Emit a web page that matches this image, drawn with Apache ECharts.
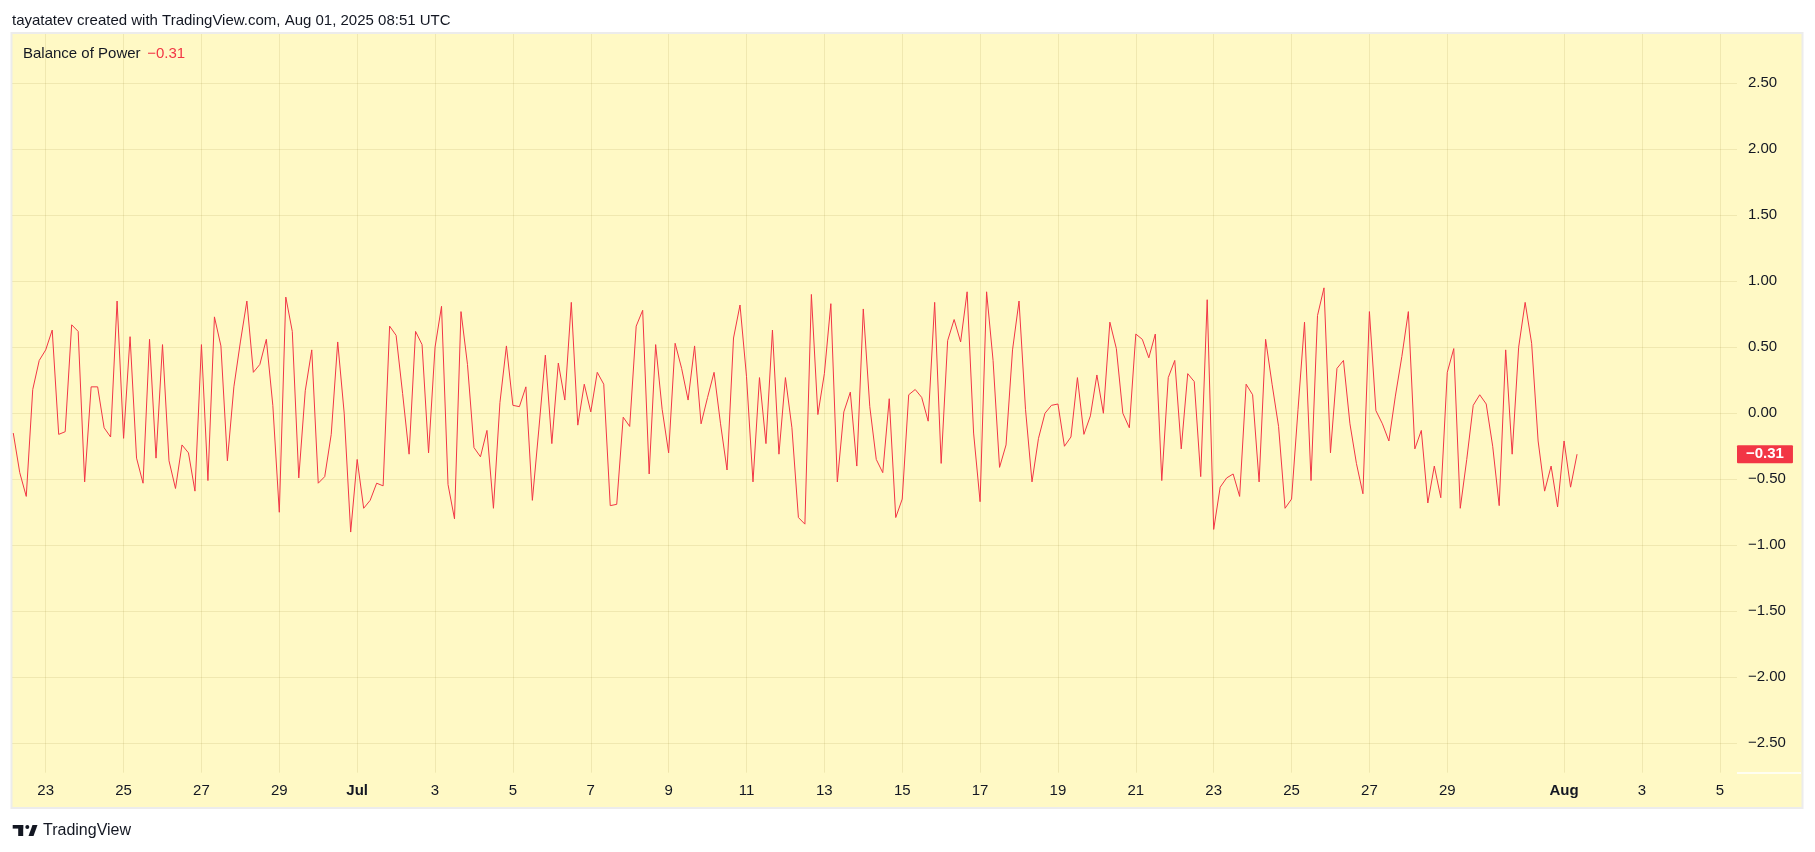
<!DOCTYPE html>
<html>
<head>
<meta charset="utf-8">
<script src="https://cdn.jsdelivr.net/npm/echarts@6/dist/echarts.min.js"></script>
<style>
  html, body { margin: 0; padding: 0; background: #ffffff; }
  #chart { width: 1815px; height: 852px; }
</style>
</head>
<body>
<div id="chart"></div>
<script>
// ---- Data ----
// 4-hour bars, first bar Jun 22 2025 04:00 UTC
const firstBarUTC = Date.UTC(2025, 5, 22, 4, 0, 0);
const barHours = 4;
const bopValues = [
  -0.15, -0.45, -0.63, 0.18, 0.40, 0.48, 0.63, -0.16, -0.14, 0.67,
  0.62, -0.52, 0.20, 0.20, -0.11, -0.18, 0.85, -0.19, 0.58, -0.34,
  -0.53, 0.56, -0.34, 0.52, -0.36, -0.57, -0.24, -0.30, -0.59, 0.52,
  -0.51, 0.73, 0.51, -0.36, 0.20, 0.54, 0.85, 0.31, 0.37, 0.56,
  0.06, -0.75, 0.88, 0.62, -0.49, 0.17, 0.48, -0.53, -0.48, -0.16,
  0.54, 0.00, -0.90, -0.35, -0.72, -0.66, -0.53, -0.55, 0.66, 0.59,
  0.15, -0.31, 0.62, 0.52, -0.30, 0.50, 0.81, -0.54, -0.80, 0.77,
  0.37, -0.26, -0.33, -0.13, -0.72, 0.08, 0.51, 0.06, 0.05, 0.20,
  -0.66, -0.12, 0.44, -0.23, 0.38, 0.10, 0.84, -0.09, 0.22, 0.01,
  0.31, 0.22, -0.70, -0.69, -0.03, -0.10, 0.66, 0.78, -0.46, 0.52,
  0.03, -0.30, 0.53, 0.34, 0.10, 0.51, -0.08, 0.12, 0.31, -0.08,
  -0.43, 0.57, 0.82, 0.28, -0.52, 0.27, -0.23, 0.63, -0.31, 0.27,
  -0.11, -0.79, -0.84, 0.90, -0.01, 0.30, 0.83, -0.52, 0.01, 0.16,
  -0.40, 0.79, 0.05, -0.35, -0.45, 0.11, -0.79, -0.65, 0.14, 0.18,
  0.12, -0.06, 0.84, -0.38, 0.55, 0.71, 0.54, 0.92, -0.15, -0.67,
  0.92, 0.40, -0.41, -0.24, 0.48, 0.85, 0.03, -0.52, -0.19, 0.00,
  0.06, 0.07, -0.25, -0.18, 0.27, -0.16, -0.02, 0.29, 0.00, 0.69,
  0.49, 0.00, -0.11, 0.60, 0.56, 0.42, 0.60, -0.51, 0.27, 0.40,
  -0.27, 0.30, 0.24, -0.48, 0.86, -0.88, -0.56, -0.49, -0.46, -0.63,
  0.22, 0.14, -0.52, 0.56, 0.22, -0.10, -0.72, -0.65, 0.03, 0.69,
  -0.51, 0.74, 0.95, -0.30, 0.34, 0.40, -0.08, -0.38, -0.61, 0.77,
  0.02, -0.08, -0.21, 0.13, 0.43, 0.77, -0.27, -0.13, -0.68, -0.40,
  -0.64, 0.31, 0.49, -0.72, -0.35, 0.06, 0.14, 0.07, -0.25, -0.70,
  0.48, -0.31, 0.50, 0.84, 0.53, -0.21, -0.59, -0.40, -0.71, -0.21,
  -0.56, -0.31
];
const lastValue = -0.31;

const xTickDates = [
  '2025-06-23','2025-06-25','2025-06-27','2025-06-29','2025-07-01','2025-07-03',
  '2025-07-05','2025-07-07','2025-07-09','2025-07-11','2025-07-13','2025-07-15',
  '2025-07-17','2025-07-19','2025-07-21','2025-07-23','2025-07-25','2025-07-27',
  '2025-07-29','2025-08-01','2025-08-03','2025-08-05'
];
const xTickLabels = [
  '23','25','27','29','Jul','3','5','7','9','11','13','15','17','19','21',
  '23','25','27','29','Aug','3','5'
];
const yTickValues = [2.5, 2.0, 1.5, 1.0, 0.5, 0.0, -0.5, -1.0, -1.5, -2.0, -2.5];
const monthLabels = ['Jul', 'Aug'];

// ---- Build ----
const HOUR = 3600 * 1000;
const seriesData = bopValues.map((v, i) => [firstBarUTC + i * barHours * HOUR, v]);
const xTickTs = xTickDates.map(d => Date.parse(d + 'T00:00:00Z'));
const xMin = firstBarUTC - 0.6 * HOUR;
const xMax = firstBarUTC + 1062.6 * HOUR;

function fmtNum(v) {
  const s = Math.abs(v).toFixed(2);
  return (v < 0 ? '\u2212' : '') + s;
}

const FONT = '"Liberation Sans", Arial, sans-serif';
const TEXT = '#131722';
const RED = '#f23645';
const BG = '#fff9c5';
const GRID = 'rgba(140,125,40,0.13)';

const chart = echarts.init(document.getElementById('chart'), null, { renderer: 'canvas' });
chart.setOption({
  animation: false,
  backgroundColor: '#ffffff',
  textStyle: { fontFamily: FONT },
  grid: { left: 12.3, right: 78, top: 34, bottom: 79.3, containLabel: false },
  xAxis: {
    type: 'value',
    min: xMin,
    max: xMax,
    scale: true,
    axisLine: { show: false },
    axisTick: { show: false, customValues: xTickTs },
    splitLine: { show: true, lineStyle: { color: GRID, width: 1 } },
    axisLabel: {
      customValues: xTickTs,
      margin: 11,
      color: TEXT,
      fontSize: 15,
      fontFamily: FONT,
      formatter: function (val) {
        let idx = -1;
        for (let k = 0; k < xTickTs.length; k++) {
          if (Math.abs(xTickTs[k] - val) < HOUR) { idx = k; break; }
        }
        const lab = idx >= 0 ? xTickLabels[idx] : '';
        return monthLabels.indexOf(lab) >= 0 ? '{b|' + lab + '}' : lab;
      },
      rich: { b: { fontWeight: 'bold', fontSize: 15, color: TEXT, fontFamily: FONT } }
    }
  },
  yAxis: {
    type: 'value',
    position: 'right',
    min: -2.723,
    max: 2.873,
    axisLine: { show: false },
    axisTick: { show: false, customValues: yTickValues },
    splitLine: { show: true, lineStyle: { color: GRID, width: 1 } },
    axisLabel: {
      customValues: yTickValues,
      margin: 11,
      color: TEXT,
      fontSize: 15,
      fontFamily: FONT,
      formatter: function (v) { return fmtNum(v); }
    }
  },
  series: [{
    type: 'line',
    name: 'Balance of Power',
    data: seriesData,
    showSymbol: false,
    symbol: 'none',
    lineStyle: { color: RED, width: 1 },
    itemStyle: { color: RED },
    z: 3,
    markLine: {
      silent: true,
      symbol: ['none', 'none'],
      lineStyle: { color: 'rgba(0,0,0,0)', width: 1, type: 'solid' },
      label: {
        show: true,
        position: 'end',
        distance: 0,
        formatter: function () { return fmtNum(lastValue); },
        color: '#ffffff',
        backgroundColor: RED,
        fontWeight: 'bold',
        fontSize: 15,
        fontFamily: FONT,
        padding: [2, 9, 1, 9],
        borderRadius: 1
      },
      data: [{ yAxis: lastValue }]
    }
  }],
  graphic: [
    {
      type: 'rect', z: -10, silent: true,
      shape: { x: 11.5, y: 33, width: 1791, height: 775 },
      style: { fill: BG, stroke: '#ececec', lineWidth: 2 }
    },
    {
      type: 'line', z: 10, silent: true,
      shape: { x1: 1737, y1: 773, x2: 1801, y2: 773 },
      style: { stroke: '#ffffff', lineWidth: 1.5 }
    },
    {
      type: 'text', z: 10, left: 12, top: 13,
      style: { text: 'tayatatev created with TradingView.com, Aug 01, 2025 08:51 UTC', fill: TEXT, font: '15px ' + FONT }
    },
    {
      type: 'text', z: 10, left: 23, top: 46,
      style: {
        text: '{n|Balance of Power}  {v|' + fmtNum(lastValue) + '}',
        rich: {
          n: { fill: TEXT, fontSize: 15, fontFamily: FONT },
          v: { fill: RED, fontSize: 15, fontFamily: FONT }
        }
      }
    },
    {
      type: 'group', z: 10, silent: true,
      children: [
        { type: 'rect', shape: { x: 12.7, y: 825, width: 10.5, height: 3.6 }, style: { fill: TEXT } },
        { type: 'rect', shape: { x: 18.2, y: 825, width: 5, height: 11 }, style: { fill: TEXT } },
        { type: 'circle', shape: { cx: 27.3, cy: 826.9, r: 2 }, style: { fill: TEXT } },
        { type: 'polygon', shape: { points: [[28.5, 836], [33.5, 836], [37.5, 825], [32.5, 825]] }, style: { fill: TEXT } }
      ]
    },
    {
      type: 'text', z: 10, left: 43, top: 823,
      style: { text: 'TradingView', fill: TEXT, font: '16px ' + FONT }
    }
  ]
});
</script>
</body>
</html>
